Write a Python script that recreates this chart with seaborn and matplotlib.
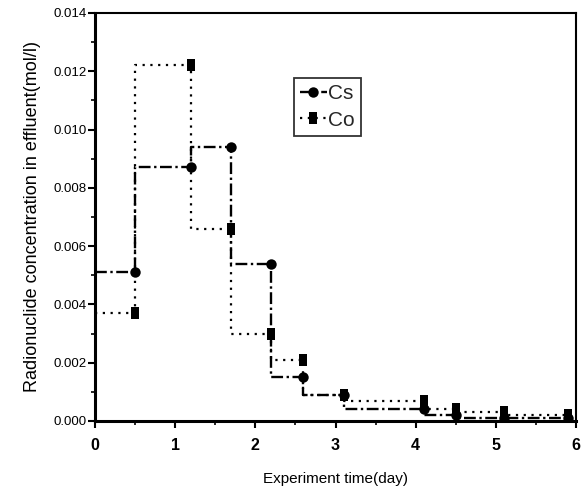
import numpy as np
import pandas as pd
import matplotlib
matplotlib.use("Agg")
import matplotlib.pyplot as plt
from matplotlib.ticker import MultipleLocator, FormatStrFormatter
import seaborn as sns

# sampling days (end of each collection interval)
days = [0.5, 1.2, 1.7, 2.2, 2.6, 3.1, 4.1, 4.5, 5.1, 5.9]
cs_conc = [0.0051, 0.0087, 0.0094, 0.0054, 0.0015, 0.0009, 0.0004, 0.0002, 0.0001, 0.0001]
co_conc = [0.0037, 0.0122, 0.0066, 0.0030, 0.0021, 0.0009, 0.0007, 0.0004, 0.0003, 0.0002]

sns.set_theme(style="ticks")
plt.rcParams["font.family"] = ["Liberation Sans", "DejaVu Sans"]

fig = plt.figure(figsize=(5.82, 4.91), dpi=100)
ax = fig.add_axes([0.163, 0.1426, 0.827, 0.831])

# step starts at t=0 with the first interval's value
x_cs = [0.0] + days
y_cs = [cs_conc[0]] + cs_conc
x_co = [0.0] + days
y_co = [co_conc[0]] + co_conc
marks = list(range(1, len(days) + 1))

# tall rectangle marker like the scanned original
rect = [(-0.33, -0.5), (0.33, -0.5), (0.33, 0.5), (-0.33, 0.5), (-0.33, -0.5)]

sns.lineplot(x=x_cs, y=y_cs, ax=ax, color="black", drawstyle="steps-pre",
             linestyle=(0, (5, 1.5, 1, 1.5)), linewidth=1.7, marker="o",
             markersize=7.5, markeredgewidth=0, markevery=marks, label="Cs",
             sort=False, estimator=None)
sns.lineplot(x=x_co, y=y_co, ax=ax, color="black", drawstyle="steps-pre",
             linestyle=(0, (1, 2.5)), linewidth=1.6, marker=rect,
             markersize=8.5, markeredgewidth=0, markevery=marks, label="Co",
             sort=False, estimator=None)

ax.set_xlim(0, 6)
ax.set_ylim(0, 0.014)
ax.xaxis.set_major_locator(MultipleLocator(1))
ax.xaxis.set_minor_locator(MultipleLocator(0.5))
ax.yaxis.set_major_locator(MultipleLocator(0.002))
ax.yaxis.set_minor_locator(MultipleLocator(0.001))
ax.yaxis.set_major_formatter(FormatStrFormatter("%.3f"))

for s in ax.spines.values():
    s.set_color("black")
    s.set_linewidth(1.5)
ax.spines["bottom"].set_linewidth(2.2)
ax.spines["left"].set_linewidth(2.2)

ax.tick_params(axis="both", which="major", direction="out", length=5, width=1.5,
               color="black", labelcolor="black")
ax.tick_params(axis="both", which="minor", direction="out", length=3, width=1.2,
               color="black")
ax.tick_params(axis="x", labelsize=11.5, pad=7)
ax.tick_params(axis="y", labelsize=9.5, pad=1)
for lab in ax.get_xticklabels():
    lab.set_fontweight("bold")

ax.set_xlabel("Experiment time(day)", fontsize=11, labelpad=14, color="black")
ax.set_ylabel("Radionuclide concentration in effluent(mol/l)", fontsize=13,
              labelpad=9, color="black")

leg = ax.legend(loc="upper left", bbox_to_anchor=(0.413, 0.84), fontsize=15,
                frameon=True, fancybox=False, handlelength=1.3, handletextpad=0.05,
                borderpad=0.3, labelspacing=0.35, borderaxespad=0)
leg.get_frame().set_edgecolor("black")
leg.get_frame().set_linewidth(1.3)

fig.savefig("out.png", dpi=100)
